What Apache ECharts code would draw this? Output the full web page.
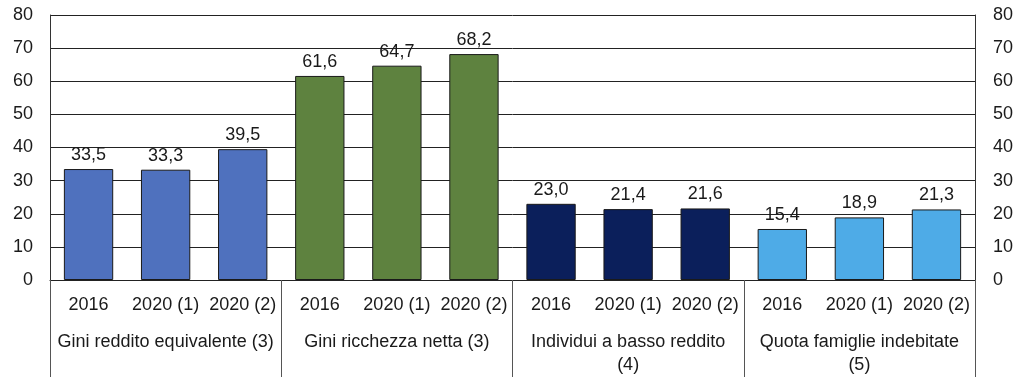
<!DOCTYPE html>
<html>
<head>
<meta charset="utf-8">
<script src="https://cdn.jsdelivr.net/npm/echarts@6/dist/echarts.min.js"></script>
<style>html,body{margin:0;padding:0;background:#fff}#c{width:1024px;height:384px}</style>
</head>
<body>
<div id="c"></div>
<script>
var groups = ['Gini reddito equivalente (3)', 'Gini ricchezza netta (3)', 'Individui a basso reddito\n(4)', 'Quota famiglie indebitate\n(5)'];
var years = ['2016', '2020 (1)', '2020 (2)'];
var giniReddito = [33.5, 33.3, 39.5];
var giniRicchezza = [61.6, 64.7, 68.2];
var bassoReddito = [23.0, 21.4, 21.6];
var famiglieIndebitate = [15.4, 18.9, 21.3];
var yTicks = [0, 10, 20, 30, 40, 50, 60, 70, 80];

var groupValues = [giniReddito, giniRicchezza, bassoReddito, famiglieIndebitate];
var palette = ['#4f71be', '#5e823f', '#0b1f5b', '#4eabe7'];
var cats = [], data = [];
groupValues.forEach(function (vals, g) {
  vals.forEach(function (v, i) {
    cats.push(years[i]);
    data.push({ value: v, itemStyle: { color: palette[g] } });
  });
});

var font = 'Liberation Sans, Arial, Helvetica, sans-serif';
var txt = '#1a1a1a';
var fs = 18;
var chart = echarts.init(document.getElementById('c'), null, { renderer: 'canvas' });
var yAxisBase = {
  type: 'value', min: yTicks[0], max: yTicks[yTicks.length - 1], interval: 10,
  axisLine: { show: true, lineStyle: { color: '#333', width: 1 } },
  axisTick: { show: false }
};
chart.setOption({
  animation: false,
  grid: { left: 50, right: 49, top: 15, bottom: 104 },
  xAxis: [
    {
      type: 'category', data: cats, position: 'bottom',
      axisLine: { show: true, lineStyle: { color: '#222', width: 1 } },
      axisTick: { show: false },
      axisLabel: { color: txt, fontSize: fs, fontFamily: font, margin: 16, interval: 0 }
    },
    {
      type: 'category', data: groups, position: 'bottom',
      axisLine: { show: false },
      axisTick: { show: true, length: 97, lineStyle: { color: '#555', width: 1 } },
      axisLabel: { color: txt, fontSize: fs, fontFamily: font, margin: 51, lineHeight: 23, interval: 0 }
    }
  ],
  yAxis: [
    Object.assign({}, yAxisBase, { position: 'left',
      splitLine: { show: true, lineStyle: { color: '#222', width: 1 } },
      axisLabel: { color: txt, fontSize: fs, fontFamily: font, margin: 17 } }),
    Object.assign({}, yAxisBase, { position: 'right', splitLine: { show: false },
      axisLabel: { color: txt, fontSize: fs, fontFamily: font, margin: 18 } })
  ],
  series: [{
    type: 'bar', xAxisIndex: 0, yAxisIndex: 0, data: data,
    barCategoryGap: '36%',
    itemStyle: { borderColor: '#1a1a1a', borderWidth: 1 },
    label: {
      show: true, position: 'top', distance: 5, color: txt, fontSize: fs, fontFamily: font,
      formatter: function (p) { return p.value.toFixed(1).replace('.', ','); }
    }
  }]
});
</script>
</body>
</html>
